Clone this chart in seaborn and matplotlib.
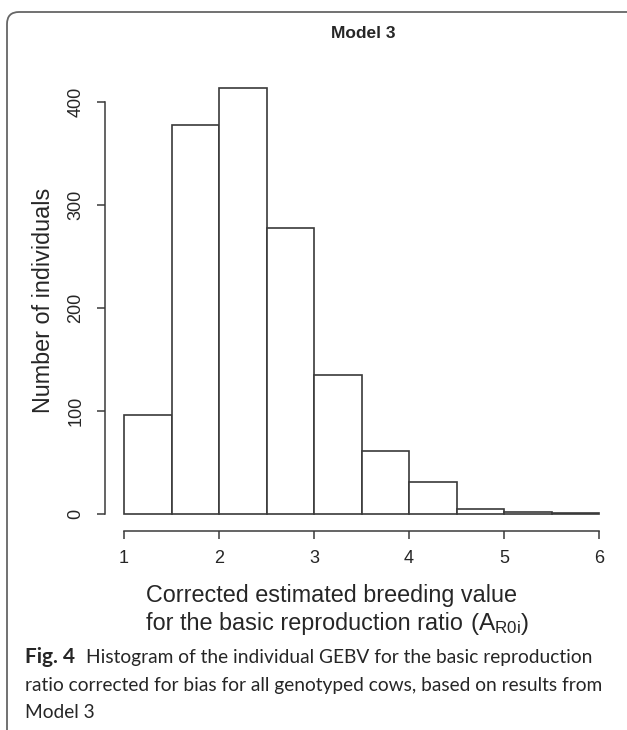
import matplotlib
matplotlib.use('Agg')
import matplotlib.pyplot as plt
import matplotlib.patches as mpatches
import matplotlib.transforms as mtrans
import seaborn as sb
import numpy as np

# histogram data
bin_edges = [1.0, 1.5, 2.0, 2.5, 3.0, 3.5, 4.0, 4.5, 5.0, 5.5, 6.0]
bin_counts = [96, 378, 414, 278, 135, 61, 31, 5, 2, 1]
x_ticks = [1, 2, 3, 4, 5, 6]
y_ticks = [0, 100, 200, 300, 400]

sb.set_style('white')
plt.rcParams['font.family'] = ['Liberation Sans', 'DejaVu Sans']
plt.rcParams['mathtext.fontset'] = 'custom'
plt.rcParams['mathtext.rm'] = 'Liberation Sans'

W, H = 627, 730
fig = plt.figure(figsize=(W / 100, H / 100), dpi=100)

def fx(x):
    return x / W

def fy(y):
    return 1 - y / H

# plot region in pixels (R style, 4% padding)
ax = fig.add_axes([fx(105), fy(531), 513 / W, 461.5 / H])
centers = [(a + b) / 2 for a, b in zip(bin_edges[:-1], bin_edges[1:])]
sb.histplot(x=centers, weights=bin_counts, bins=bin_edges, ax=ax,
            color='white', edgecolor='#3a3a3a', linewidth=1.2, alpha=1)
ax.set_xlim(0.8, 6.2)
ax.set_ylim(-16.6, 431.6)
ax.set_xlabel('')
ax.set_ylabel('')
ax.set_xticks(x_ticks)
ax.set_yticks(y_ticks)
ax.set_yticklabels([str(v) for v in y_ticks], rotation=90, va='center')
for s in ['top', 'right']:
    ax.spines[s].set_visible(False)
ax.spines['left'].set_bounds(0, 400)
ax.spines['bottom'].set_bounds(1, 6)
for s in ['left', 'bottom']:
    ax.spines[s].set_color('#3a3a3a')
    ax.spines[s].set_linewidth(1.1)
ax.tick_params(direction='out', length=6, width=1.1, color='#3a3a3a',
               labelsize=13, left=True, bottom=True)
ax.tick_params(axis='x', pad=8)
ax.tick_params(axis='y', pad=9)
ax.patch.set_alpha(0)

# titles and labels
fig.text(fx(363), fy(33), 'Model 3', ha='center', va='center',
         fontsize=12.5, fontweight='bold')
fig.text(fx(43.5), fy(300), 'Number of individuals', rotation=90,
         ha='center', va='center', fontsize=16.8)
fig.text(fx(146), fy(602), 'Corrected estimated breeding value',
         ha='left', va='baseline', fontsize=16.8)
fig.text(fx(146), fy(630), 'for the basic reproduction ratio',
         ha='left', va='baseline', fontsize=16.8)
fig.text(fx(470), fy(630), r'$\mathrm{(A_{R0i})}$',
         ha='left', va='baseline', fontsize=17.5)

# caption
cap_font = ['Lato', 'DejaVu Sans']
fig.text(fx(25), fy(663), 'Fig. 4', ha='left', va='baseline', fontsize=15,
         fontweight='bold', family=cap_font)
fig.text(fx(86), fy(663), 'Histogram of the individual GEBV for the basic reproduction',
         ha='left', va='baseline', fontsize=13.8, family=cap_font)
fig.text(fx(25), fy(691), 'ratio corrected for bias for all genotyped cows, based on results from',
         ha='left', va='baseline', fontsize=13.8, family=cap_font)
fig.text(fx(25), fy(718), 'Model 3', ha='left', va='baseline', fontsize=13.8,
         family=cap_font)

# rounded frame around the figure
frame = mpatches.FancyBboxPatch((7, -30), 680, H - 12 + 30,
                                boxstyle='round,pad=0,rounding_size=12',
                                transform=mtrans.IdentityTransform(),
                                facecolor='none', edgecolor='#666666',
                                linewidth=1.3)
fig.add_artist(frame)

fig.savefig('out.png', dpi=100)
